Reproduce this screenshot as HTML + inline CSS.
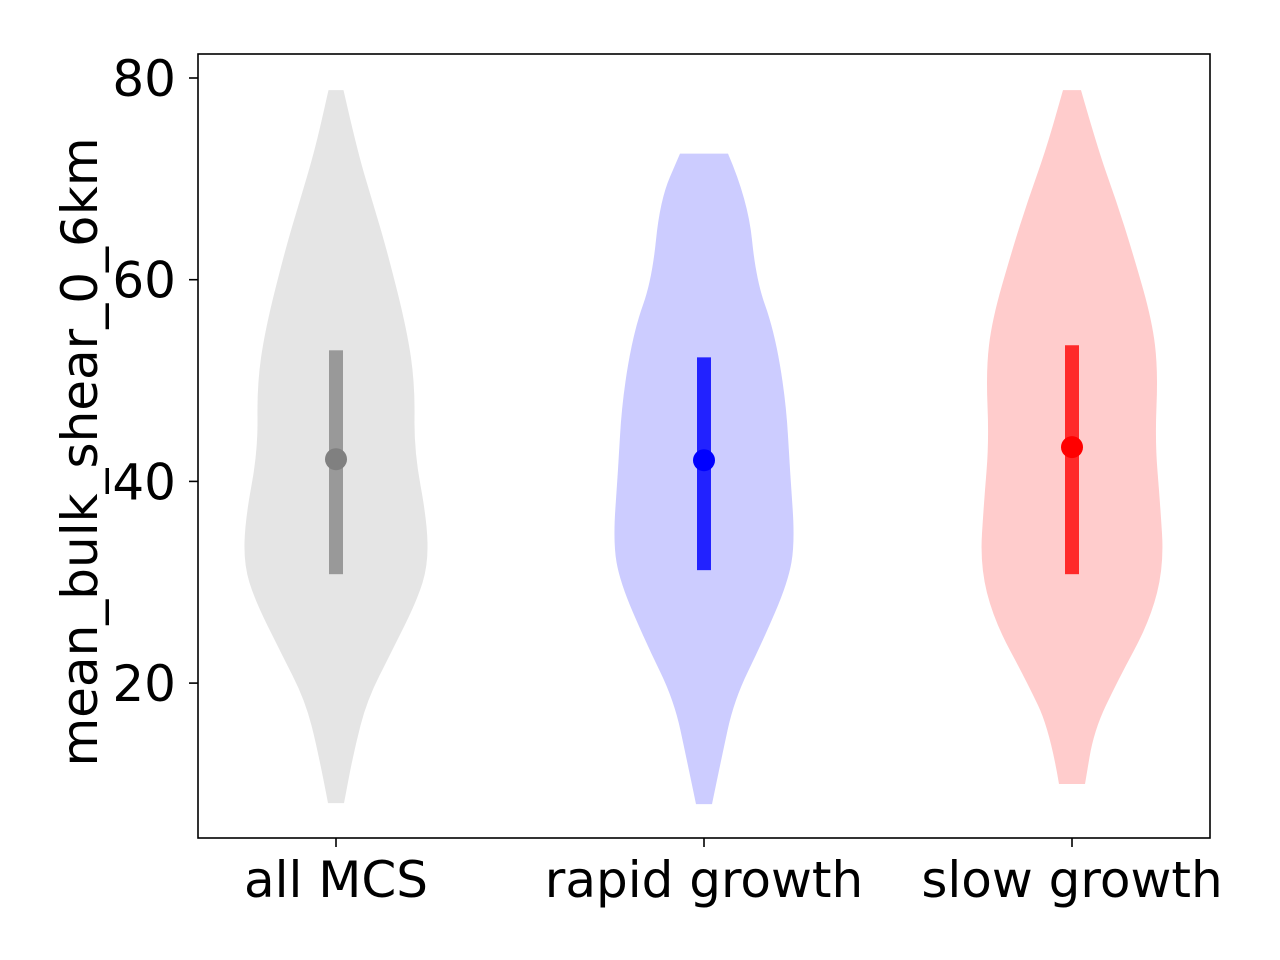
<!DOCTYPE html>
<html><head><meta charset="utf-8"><style>
body{margin:0;background:#fff;}
svg{display:block;font-family:"DejaVu Sans","Liberation Sans",sans-serif;}
</style></head><body>
<svg id="chart" width="1280" height="960">
<rect x="0" y="0" width="1280" height="960" fill="#fff"/>
<g id="plot"></g>
<rect x="198" y="54" width="1012" height="784" fill="none" stroke="#000" stroke-width="1.6"/>
<g id="axes"></g>
<text x="0" y="0" transform="translate(97,452) rotate(-90)" text-anchor="middle" font-size="50">mean_bulk_shear_0_6km</text>
</svg>
<script>
const categories = ["all MCS","rapid growth","slow growth"];
const yTicks = [20,40,60,80];
const fills = ["#e5e5e5","#ccccff","#ffcccc"];
const barColors = ["#999999","#2222ff","#ff2a2a"];
const dotColors = ["#808080","#0000ff","#ff0000"];
// density profiles: value and half-width (fraction of category spacing)
const profVals = [
 [78.8,72.9,67.9,62.9,55,49.5,43.1,36.1,31.7,28.2,23.2,18.3,13.3,8.1],
 [72.5,67.9,60,55,48,41,34,30,24,18.3,12.3,8],
 [78.8,72.9,67.9,62.9,56,51,44,38,31.7,26.2,20.3,15.3,10]
];
const profWidths = [
 [7.5,21,36,51,71,79,78,91,92,81,56,31,18,8],
 [24,44,52,70,82,86,91,84,58,30,17,8],
 [9,26,44,60,80,86,83,88,92,78,46,22,13]
].map(a=>a.map(w=>w/368));
const lows = [30.8,31.2,30.8];
const highs = [53,52.3,53.5];
const means = [42.2,42.1,43.4];

const NS="http://www.w3.org/2000/svg";
const X0=198,X1=1210,Y0=838,Y1=54;
const xScale = i => X0 + (i+0.375)/2.75*(X1-X0);
const yScale = v => 78 + (80-v)*(201.7/20);
const spacing = (X1-X0)/2.75;
function mk(tag,attrs,parent){const e=document.createElementNS(NS,tag);for(const k in attrs)e.setAttribute(k,attrs[k]);parent.appendChild(e);return e;}
const plot=document.getElementById('plot'), axes=document.getElementById('axes');

function smoothPath(pts){
  let d=`M${pts[0][0]},${pts[0][1]}`;
  for(let i=1;i<pts.length-1;i++){
    const mx=(pts[i][0]+pts[i+1][0])/2,my=(pts[i][1]+pts[i+1][1])/2;
    d+=` Q${pts[i][0]},${pts[i][1]} ${mx},${my}`;
  }
  const l=pts[pts.length-1];d+=` L${l[0]},${l[1]}`;return d;
}
categories.forEach((c,i)=>{
  const cx=xScale(i);
  const vals=profVals[i],ws=profWidths[i];
  const right=vals.map((v,k)=>[cx+ws[k]*spacing,yScale(v)]);
  const left=vals.map((v,k)=>[cx-ws[k]*spacing,yScale(v)]).reverse();
  let d=`M${cx-ws[0]*spacing},${yScale(vals[0])} `+smoothPath(right).replace(/^M/,'L');
  d+=' '+smoothPath(left).replace(/^M/,'L')+' Z';
  const p=mk('path',{d:d,fill:fills[i]},plot);
  
  
  const b=mk('rect',{x:cx-7,y:yScale(highs[i]),width:14,height:yScale(lows[i])-yScale(highs[i]),fill:barColors[i]},plot);
  
  
  const m=mk('circle',{cx:cx,cy:yScale(means[i]),r:11,fill:dotColors[i]},plot);
  
  
  const t=mk('line',{x1:cx,x2:cx,y1:Y0,y2:Y0+9,stroke:'#000','stroke-width':1.6},axes);
  
  
  const l=mk('text',{x:cx,y:897,'text-anchor':'middle','font-size':50},axes);
  l.textContent=c;
  
  
});
yTicks.forEach(v=>{
  const y=yScale(v);
  const t=mk('line',{x1:X0-9,x2:X0,y1:y,y2:y,stroke:'#000','stroke-width':1.6},axes);
  
  
  const l=mk('text',{x:X0-22,y:y+18,'text-anchor':'end','font-size':50},axes);
  l.textContent=v;
  
  
});
</script>
</body></html>
